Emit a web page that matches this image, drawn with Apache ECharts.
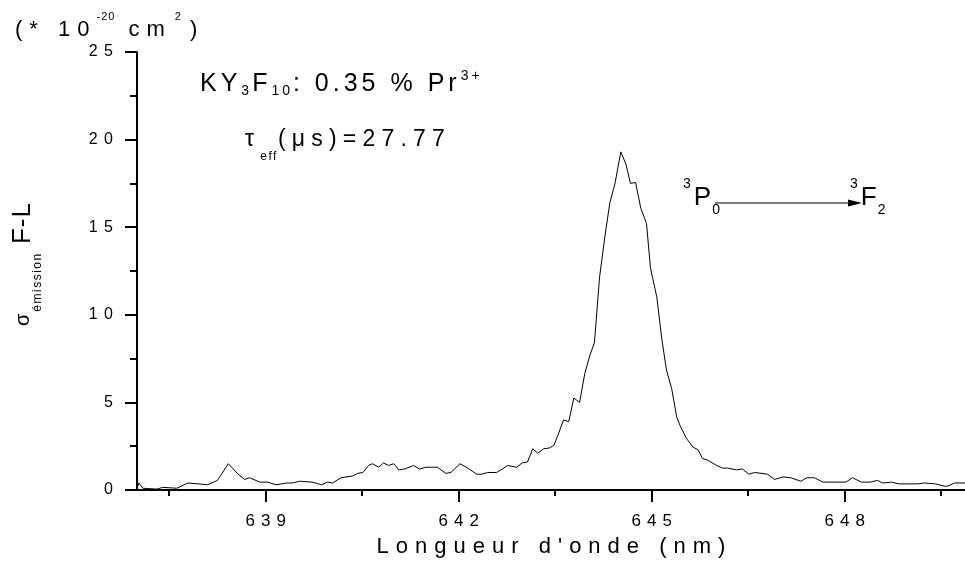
<!DOCTYPE html>
<html>
<head>
<meta charset="utf-8">
<script src="https://cdn.jsdelivr.net/npm/echarts@6/dist/echarts.min.js"></script>
<style>
html, body { margin: 0; padding: 0; background: #fff; }
#chart { width: 965px; height: 564px; }
</style>
</head>
<body>
<div id="chart"></div>
<script>
// emission spectrum (nm, 10^-20 cm^2)
const wavelength = [
   637.00, 637.03, 637.09, 637.31, 637.40, 637.62, 637.79, 638.10, 638.25, 638.42,
   638.56, 638.67, 638.75, 638.91, 639.03, 639.16, 639.33, 639.42, 639.53, 639.72,
   639.87, 639.96, 640.04, 640.17, 640.35, 640.43, 640.51, 640.60, 640.66, 640.76,
   640.83, 640.91, 640.99, 641.07, 641.16, 641.30, 641.39, 641.49, 641.60, 641.67,
   641.80, 641.88, 642.02, 642.14, 642.28, 642.36, 642.45, 642.59, 642.68, 642.76,
   642.90, 642.99, 643.07, 643.15, 643.23, 643.32, 643.41, 643.48, 643.54, 643.63,
   643.71, 643.79, 643.88, 643.96, 644.04, 644.11, 644.19, 644.27, 644.35, 644.43,
   644.52, 644.60, 644.67, 644.75, 644.83, 644.92, 644.98, 645.08, 645.16, 645.23,
   645.31, 645.39, 645.45, 645.54, 645.64, 645.72, 645.79, 645.87, 646.01, 646.10,
   646.18, 646.32, 646.41, 646.51, 646.60, 646.80, 646.91, 647.04, 647.16, 647.32,
   647.41, 647.53, 647.66, 647.81, 648.02, 648.12, 648.26, 648.40, 648.51, 648.59,
   648.73, 648.84, 649.14, 649.24, 649.41, 649.57, 649.62, 649.71, 649.87
];
const sigma = [
   0.1, 0.4, 0.1, 0.05, 0.15, 0.1, 0.4, 0.3, 0.55, 1.5,
   0.95, 0.6, 0.7, 0.45, 0.45, 0.3, 0.4, 0.4, 0.5, 0.45,
   0.3, 0.45, 0.4, 0.7, 0.8, 0.95, 1.0, 1.4, 1.5, 1.3,
   1.55, 1.4, 1.5, 1.15, 1.2, 1.4, 1.2, 1.3, 1.3, 1.3,
   0.95, 1.0, 1.5, 1.25, 0.9, 0.9, 1.0, 1.0, 1.2, 1.4,
   1.3, 1.55, 1.6, 2.35, 2.1, 2.35, 2.4, 2.55, 3.1, 4.0,
   3.9, 5.25, 5.0, 6.65, 7.7, 8.4, 12.15, 14.4, 16.4, 17.5,
   19.3, 18.6, 17.5, 17.55, 16.1, 15.2, 12.7, 11.0, 8.55, 6.85,
   5.8, 4.15, 3.6, 2.95, 2.45, 2.3, 1.8, 1.7, 1.4, 1.25,
   1.25, 1.15, 1.2, 0.9, 1.0, 0.9, 0.6, 0.75, 0.7, 0.5,
   0.7, 0.7, 0.45, 0.45, 0.45, 0.7, 0.45, 0.45, 0.55, 0.4,
   0.45, 0.35, 0.35, 0.4, 0.35, 0.2, 0.25, 0.4, 0.4
];
const xMajorTicks = [639, 642, 645, 648];
const xMinorTicks = [637.5, 640.5, 643.5, 646.5, 649.5];

const font = 'Liberation Sans';

// Origin draws its text widely spaced: canvas letterSpacing (px) picked by font size
const spacingBySize = { 11: 1, 12: 1.5, 14: 3, 16: 6.5, 17: 6, 20: 2, 22: 7, 23: 6.2, 25: 4, 26: 1 };
const ctxProto = CanvasRenderingContext2D.prototype;
const baseFillText = ctxProto.fillText;
const baseMeasureText = ctxProto.measureText;
const spaceOut = (ctx)=>{
   const m = /(\d+(?:\.\d+)?)px/.exec(ctx.font);
   const size = m ? Math.round(parseFloat(m[1])) : 12;
   const s = spacingBySize[size] || 0;
   ctx.letterSpacing = s + 'px';
   return s;
};
ctxProto.fillText = function (text, x, y) {
   const s = spaceOut(this);
   // the trailing gap would push centred / right aligned text off its anchor
   if (this.textAlign === 'center') x += s / 2;
   else if (this.textAlign === 'right' || this.textAlign === 'end') x += s;
   return baseFillText.call(this, text, x, y);
};
ctxProto.measureText = function (text) {
   spaceOut(this);
   return baseMeasureText.call(this, text);
};

const richText = (size, smallSize, lineHeight, extra)=>Object.assign({
   b: { fontSize: size, fontFamily: font, color: '#000', lineHeight, verticalAlign: 'middle' },
   sup: { fontSize: smallSize, fontFamily: font, color: '#000', lineHeight, verticalAlign: 'top' },
   sub: { fontSize: smallSize, fontFamily: font, color: '#000', lineHeight, verticalAlign: 'bottom' }
}, extra || {});

const label = (x, y, text, rich, rotation)=>({
   type: 'text',
   x, y,
   rotation: rotation || 0,
   silent: true,
   style: { text, rich, fill: '#000' }
});

let chart = null;
const initChart = ()=>{
   chart = echarts.init(document.getElementById('chart'));
   const points = wavelength.map((w, i)=>[w, sigma[i]]);
   let option = {
      animation: false,
      backgroundColor: '#fff',
      grid: {
         left: 137,
         right: 0,
         top: 52,
         bottom: 74,
         outerBoundsMode: 'none'
      },
      xAxis: [
         {
            type: 'value',
            min: 637,
            max: 649.87,
            axisLine: { lineStyle: { color: '#000', width: 2 } },
            axisTick: { customValues: xMajorTicks, length: 12, lineStyle: { color: '#000', width: 2 } },
            axisLabel: { customValues: xMajorTicks, color: '#000', fontSize: 17, fontFamily: font, margin: 20 },
            splitLine: { show: false },
            name: "Longueur d'onde (nm)",
            nameLocation: 'middle',
            nameGap: 42,
            nameMoveOverlap: false,
            nameTextStyle: { color: '#000', fontSize: 22, fontFamily: font }
         },
         {
            type: 'value',
            min: 637,
            max: 649.87,
            position: 'bottom',
            axisLine: { show: false },
            axisTick: { customValues: xMinorTicks, length: 6, lineStyle: { color: '#000', width: 2 } },
            axisLabel: { show: false },
            splitLine: { show: false }
         }
      ],
      yAxis: {
         type: 'value',
         min: 0,
         max: 25,
         interval: 5,
         axisLine: { show: true, lineStyle: { color: '#000', width: 2 } },
         axisTick: { show: true, length: 12, lineStyle: { color: '#000', width: 2 } },
         minorTick: { show: true, splitNumber: 2, length: 7, lineStyle: { color: '#000', width: 2 } },
         axisLabel: { color: '#000', fontSize: 16, fontFamily: font, margin: 24 },
         splitLine: { show: false }
      },
      series: [
         {
            type: 'line',
            data: points,
            showSymbol: false,
            symbol: 'none',
            lineStyle: { color: '#000', width: 1 },
            silent: true
         }
      ],
      graphic: [
         label(15, 11, '{b|(* 10}{sup|-20}{b| cm}{supEnd|2}{b|)}', richText(22, 11, 38, {
            supEnd: { fontSize: 11, fontFamily: font, color: '#000', lineHeight: 38, verticalAlign: 'top', padding: [0, 8, 0, 3] }
         })),
         label(200, 68, '{b|KY}{sub|3}{b|F}{sub|10}{b|: 0.35 % Pr}{sup|3+}', richText(25, 14, 32)),
         label(245, 116, '{b|τ}{sub|eff}{b|(μs)=27.77}', richText(23, 12, 47)),
         label(683, 176, '{sup|3}{b|P}{sub|0}', richText(26, 14, 43)),
         label(850, 176, '{sup|3}{b|F}{sub|2}', richText(26, 14, 43)),
         label(2, 326, '{s|σ}{sub|émission}{b| F-L}', richText(26, 12, 42, {
            s: { fontSize: 20, fontFamily: font, color: '#000', lineHeight: 42, verticalAlign: 'middle' }
         }), Math.PI / 2),
         {
            type: 'line',
            silent: true,
            shape: { x1: 715, y1: 203, x2: 852, y2: 203 },
            style: { stroke: '#000', lineWidth: 1.2 }
         },
         {
            type: 'polygon',
            silent: true,
            shape: { points: [[848, 199.5], [862, 203], [848, 206.5]] },
            style: { fill: '#000' }
         }
      ]
   };
   chart.setOption(option);
};
initChart();
</script>
</body>
</html>
